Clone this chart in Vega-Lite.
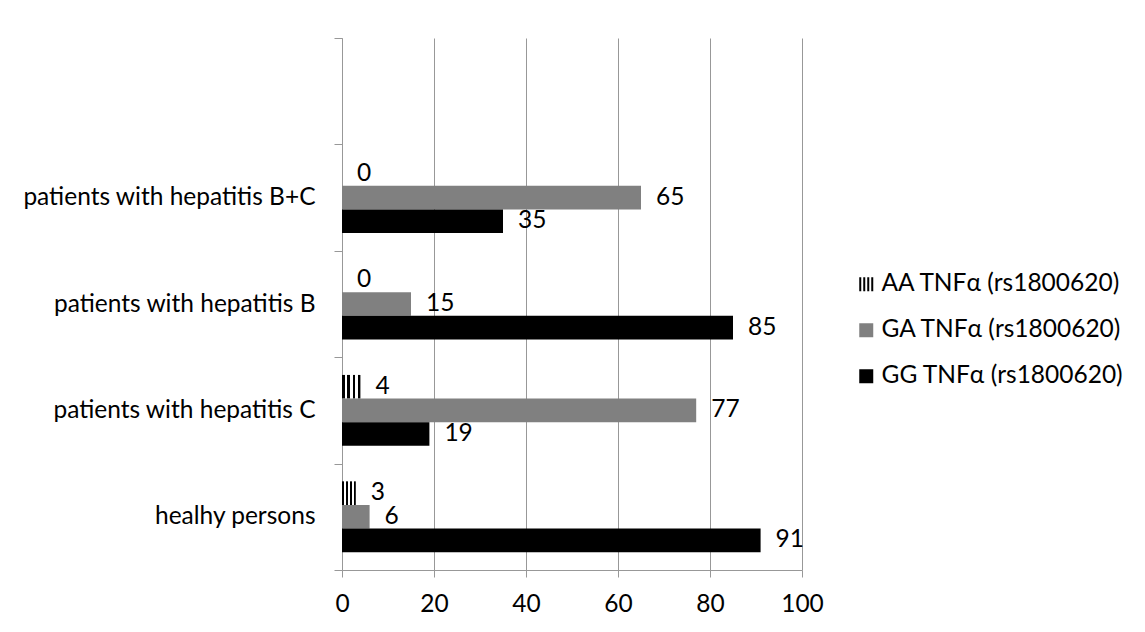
{
  "$schema": "https://vega.github.io/schema/vega-lite/v6.json",
  "width": 460,
  "height": 532,
  "autosize": {"type": "none"},
  "padding": {"left": 342, "top": 38, "right": 343, "bottom": 62},
  "background": "white",
  "data": {
    "values": [
      {"group": "healhy persons", "genotype": "AA TNFα (rs1800620)", "value": 3},
      {"group": "healhy persons", "genotype": "GA TNFα (rs1800620)", "value": 6},
      {"group": "healhy persons", "genotype": "GG TNFα (rs1800620)", "value": 91},
      {"group": "patients with hepatitis C", "genotype": "AA TNFα (rs1800620)", "value": 4},
      {"group": "patients with hepatitis C", "genotype": "GA TNFα (rs1800620)", "value": 77},
      {"group": "patients with hepatitis C", "genotype": "GG TNFα (rs1800620)", "value": 19},
      {"group": "patients with hepatitis B", "genotype": "AA TNFα (rs1800620)", "value": 0},
      {"group": "patients with hepatitis B", "genotype": "GA TNFα (rs1800620)", "value": 15},
      {"group": "patients with hepatitis B", "genotype": "GG TNFα (rs1800620)", "value": 85},
      {"group": "patients with hepatitis B+C", "genotype": "AA TNFα (rs1800620)", "value": 0},
      {"group": "patients with hepatitis B+C", "genotype": "GA TNFα (rs1800620)", "value": 65},
      {"group": "patients with hepatitis B+C", "genotype": "GG TNFα (rs1800620)", "value": 35}
    ]
  },
  "encoding": {
    "y": {
      "field": "group",
      "type": "nominal",
      "scale": {
        "domain": [" ", "patients with hepatitis B+C", "patients with hepatitis B", "patients with hepatitis C", "healhy persons"],
        "paddingInner": 0,
        "paddingOuter": 0
      },
      "axis": {
        "title": null,
        "tickBand": "extent",
        "tickSize": 8,
        "tickColor": "#989898",
        "domainColor": "#989898",
        "labelFontSize": 24.5,
        "labelColor": "#000000",
        "labelPadding": 19,
        "labelFont": "Lato",
        "labelLimit": 400
      }
    },
    "yOffset": {
      "field": "genotype",
      "type": "nominal",
      "scale": {
        "domain": ["AA TNFα (rs1800620)", "GA TNFα (rs1800620)", "GG TNFα (rs1800620)"],
        "paddingInner": 0,
        "paddingOuter": 0.75
      }
    },
    "x": {
      "field": "value",
      "type": "quantitative",
      "scale": {"domain": [0, 100], "nice": false},
      "axis": {
        "title": null,
        "values": [0, 20, 40, 60, 80, 100],
        "grid": true,
        "gridColor": "#989898",
        "tickColor": "#989898",
        "domainColor": "#989898",
        "tickSize": 7,
        "labelFontSize": 24.5,
        "labelColor": "#000000",
        "labelPadding": 15,
        "labelFlush": false,
        "labelFont": "Lato"
      }
    }
  },
  "layer": [
    {
      "mark": {"type": "bar"},
      "encoding": {
        "color": {
          "condition": {
            "test": "datum.genotype === 'AA TNFα (rs1800620)'",
            "value": {
              "gradient": "linear",
              "x1": 0, "y1": 0, "x2": 1, "y2": 0,
              "stops": [
                {"offset": 0, "color": "#000000"},
                {"offset": 0.143, "color": "#000000"},
                {"offset": 0.143, "color": "#ffffff"},
                {"offset": 0.286, "color": "#ffffff"},
                {"offset": 0.286, "color": "#000000"},
                {"offset": 0.429, "color": "#000000"},
                {"offset": 0.429, "color": "#ffffff"},
                {"offset": 0.571, "color": "#ffffff"},
                {"offset": 0.571, "color": "#000000"},
                {"offset": 0.714, "color": "#000000"},
                {"offset": 0.714, "color": "#ffffff"},
                {"offset": 0.857, "color": "#ffffff"},
                {"offset": 0.857, "color": "#000000"},
                {"offset": 1, "color": "#000000"}
              ]
            }
          },
          "field": "genotype",
          "type": "nominal",
          "scale": {
            "domain": ["AA TNFα (rs1800620)", "GA TNFα (rs1800620)", "GG TNFα (rs1800620)"],
            "range": ["#000000", "#808080", "#000000"]
          },
          "legend": {
            "title": null,
            "orient": "none",
            "legendX": 512,
            "legendY": 234,
            "symbolSize": 196,
            "symbolStrokeWidth": 0,
            "symbolOpacity": 1,
            "labelFontSize": 24.5,
            "labelFont": "Lato",
            "labelColor": "#000000",
            "labelOffset": 3,
            "rowPadding": 21,
            "labelLimit": 400
          }
        }
      }
    },
    {
      "mark": {"type": "point", "filled": true, "opacity": 0},
      "encoding": {
        "color": {"field": "genotype", "type": "nominal"},
        "shape": {
          "field": "genotype",
          "type": "nominal",
          "scale": {
            "domain": ["AA TNFα (rs1800620)", "GA TNFα (rs1800620)", "GG TNFα (rs1800620)"],
            "range": [
              "M-1,-1H-0.714V1H-1Z M-0.429,-1H-0.143V1H-0.429Z M0.143,-1H0.429V1H0.143Z M0.714,-1H1V1H0.714Z",
              "square",
              "square"
            ]
          },
          "legend": {
            "title": null,
            "orient": "none",
            "legendX": 512,
            "legendY": 234,
            "symbolSize": 196,
            "symbolStrokeWidth": 0,
            "symbolOpacity": 1,
            "labelFontSize": 24.5,
            "labelFont": "Lato",
            "labelColor": "#000000",
            "labelOffset": 3,
            "rowPadding": 21,
            "labelLimit": 400
          }
        }
      }
    },
    {
      "mark": {"type": "text", "align": "left", "baseline": "middle", "dx": 15, "fontSize": 24.5, "font": "Lato", "color": "#000000"},
      "encoding": {
        "text": {"field": "value", "type": "quantitative"}
      }
    }
  ],
  "config": {
    "view": {"stroke": null}
  }
}
